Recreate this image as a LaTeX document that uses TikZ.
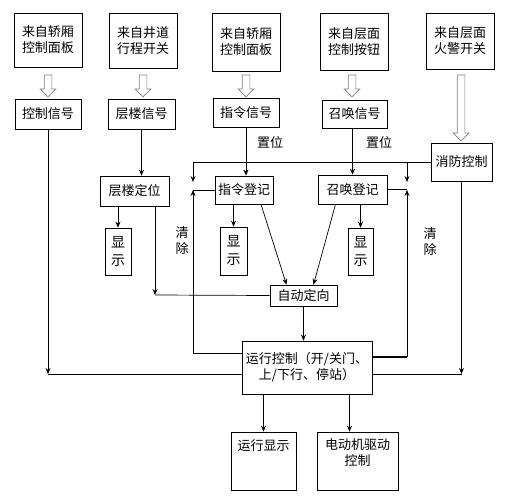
\documentclass[tikz,border=0pt]{standalone}
\usepackage{fontspec}
\setmainfont{Noto Sans CJK SC}
\usetikzlibrary{shapes, arrows.meta, positioning}
\tikzstyle{srcbox} = [rectangle, draw=black, minimum width=68pt, inner sep=0pt, align=center]
\tikzstyle{sigbox} = [rectangle, draw=black, inner sep=0pt]
\tikzstyle{dispbox} = [rectangle, draw=black, minimum width=26pt, minimum height=47pt, inner sep=0pt, align=center, font=\fontsize{14}{18}\selectfont]
\tikzstyle{hollow} = [single arrow, draw=gray, fill=white, rotate=-90, inner sep=3.5pt, single arrow head extend=4pt, single arrow head indent=0pt]
\tikzstyle{arr} = [-{Stealth[length=6pt, width=5pt, inset=2pt]}]

\begin{document}
\begin{tikzpicture}[x=1pt, y=-1pt, line width=0.7pt, font=\fontsize{13}{16}\selectfont]
\useasboundingbox (0,0) rectangle (512,503);
% sources
\node (src1) [srcbox, minimum height=54pt] at (48,40) {来自轿厢\\控制面板};
\node (src2) [srcbox, minimum height=55pt] at (143,40.5) {来自井道\\行程开关};
\node (src3) [srcbox, minimum height=58pt] at (246,42) {来自轿厢\\控制面板};
\node (src4) [srcbox, minimum height=57pt] at (354,41.5) {来自层面\\控制按钮};
\node (src5) [srcbox, minimum height=56pt] at (460,41) {来自层面\\火警开关};
\node (hol1) [hollow, minimum height=22pt] at (48,84) {};
\node (hol2) [hollow, minimum height=22pt] at (143,84) {};
\node (hol3) [hollow, minimum height=22pt] at (246,84) {};
\node (hol4) [hollow, minimum height=22pt] at (352,84) {};
\node (hol5) [hollow, minimum height=66pt] at (461,106) {};
% signals
\node (ctlsig) [sigbox, minimum width=66pt, minimum height=30pt] at (48,114) {控制信号};
\node (floorsig) [sigbox, minimum width=67pt, minimum height=30pt] at (141.5,114) {层楼信号};
\node (cmdsig) [sigbox, minimum width=66pt, minimum height=29pt] at (246,112.5) {指令信号};
\node (callsig) [sigbox, minimum width=65pt, minimum height=28pt] at (354.5,114) {召唤信号};
\node (firectl) [sigbox, minimum width=61pt, minimum height=38pt] at (461.5,162) {消防控制};
% registers
\node (floorpos) [sigbox, minimum width=69pt, minimum height=30pt] at (134.5,191) {层楼定位};
\node (disp1) [dispbox] at (118,251.5) {显\\示};
\node (cmdreg) [sigbox, minimum width=58pt, minimum height=28pt] at (244,190) {指令登记};
\node (disp2) [dispbox, minimum width=27pt, minimum height=48pt] at (233.5,251) {显\\示};
\node (callreg) [sigbox, minimum width=69pt, minimum height=29pt] at (352.5,189.5) {召唤登记};
\node (disp3) [dispbox, minimum width=25pt] at (360.5,251.5) {显\\示};
\node (autodir) [sigbox, minimum width=67pt, minimum height=21pt] at (303.5,295.5) {自动定向};
\node (runctl) [sigbox, minimum width=130pt, minimum height=53pt, align=center] at (307,367.5) {运行控制（开/关门、\\上/下行、停站）};
\node (rundisp) [sigbox, minimum width=65pt, minimum height=58pt, label={[anchor=north, yshift=-4pt]north:运行显示}] at (263.5,461) {};
\node (motor) [sigbox, minimum width=81pt, minimum height=58pt, label={[anchor=north, yshift=-3pt, align=center]north:电动机驱动\\控制}] at (357.5,461) {};
% texts
\node (set1) at (270,143) {置位};
\node (set2) at (379,143) {置位};
\node (clr1) [align=center] at (182,241) {清\\除};
\node (clr2) [align=center] at (430,242) {清\\除};
\coordinate (busL) at (48,374);
\coordinate (busR) at (461.5,374);
\coordinate (fpturn) at (155,295);
\coordinate (setL) at (193,182);
\coordinate (setR) at (407,182);
\coordinate (clrL) at (193,190);
\coordinate (clrR) at (407,190);
% connectors
\draw[arr] (ctlsig.south) -- (ctlsig.south |- busL);
\draw (busL) -- (busL -| runctl.west);
\draw (busR -| runctl.east) -- (busR);
\draw[arr] (firectl.south) -- (firectl.south |- busR);
\draw[arr] (floorsig.south) -- (floorsig.south |- floorpos.north);
\draw[arr] (floorpos.south -| disp1.north) -- (disp1.north);
\draw[arr] (floorpos.south -| fpturn) -- (fpturn);
\draw (autodir.west) -- (fpturn);
\draw[arr] (cmdsig.south) -- (cmdsig.south |- cmdreg.north);
\draw[arr] (cmdreg.south -| disp2.north) -- (disp2.north);
\draw[arr] (callsig.south -| callreg.north) -- (callreg.north);
\draw[arr] (callreg.south -| disp3.north) -- (disp3.north);
\draw[arr] ([xshift=17pt]cmdreg.south) -- ([xshift=-17pt]autodir.north);
\draw[arr] ([xshift=-17pt]callreg.south) -- ([xshift=10pt]autodir.north);
\draw[arr] (autodir.south) -- (autodir.south |- runctl.north);
\draw[arr] (runctl.south -| rundisp.north) -- (rundisp.north);
\draw[arr] ([xshift=-8pt]runctl.south -| motor.north) -- ([xshift=-8pt]motor.north);
\draw[arr] (firectl.west) -| (setL);
\draw[arr] (setR |- firectl.west) -- (setR);
\draw[arr] ([yshift=14.5pt]runctl.west) -| (clrL);
\draw[line width=1.3pt] ([yshift=10.5pt]runctl.east) -- ([yshift=10.5pt]runctl.east -| clrR);
\draw[arr] ([yshift=10.5pt]runctl.east -| clrR) -- (clrR);
\draw (cmdreg.west) -- (cmdreg.west -| clrL);
\draw (callreg.east) -- (callreg.east -| clrR);
\end{tikzpicture}
\end{document}
